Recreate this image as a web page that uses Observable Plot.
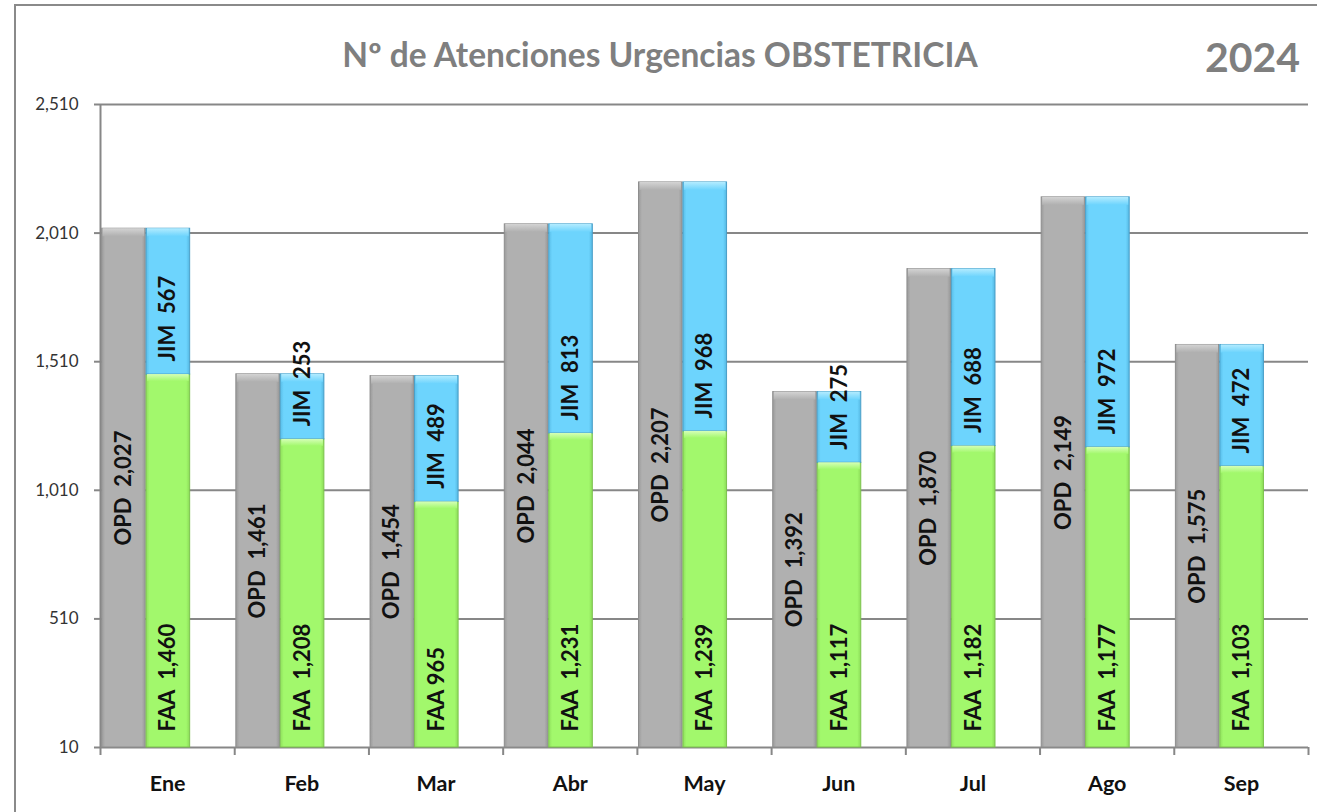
<!DOCTYPE html>
<html><head><meta charset="utf-8">
<script src="https://cdn.jsdelivr.net/npm/d3@7"></script>
<script src="https://cdn.jsdelivr.net/npm/@observablehq/plot@0.6"></script>
<style>
body{margin:0;background:#fff;}
#wrap{position:relative;width:1317px;height:812px;overflow:hidden;font-family:Lato,sans-serif;background:#fff;}
#frame{position:absolute;left:14px;top:4px;width:1400px;height:900px;border:2px solid #8a8a8a;box-sizing:border-box;}
#title{position:absolute;left:0;width:1320px;top:38px;text-align:center;font-size:33.5px;line-height:1;font-weight:700;color:#7f7f7f;white-space:nowrap;}
#year{position:absolute;right:17px;top:36px;font-size:41px;line-height:1;font-weight:700;color:#7f7f7f;}
#chart{position:absolute;left:0;top:0;}
</style></head>
<body><div id="wrap"><div id="frame"></div><div id="title">Nº de Atenciones Urgencias OBSTETRICIA</div><div id="year">2024</div><div id="chart"></div></div>
<script>
const months = ["Ene","Feb","Mar","Abr","May","Jun","Jul","Ago","Sep"];
const opd = [2027,1461,1454,2044,2207,1392,1870,2149,1575];
const faa = [1460,1208,965,1231,1239,1117,1182,1177,1103];
const jim = [567,253,489,813,968,275,688,972,472];
const yTicks = [10,510,1010,1510,2010,2510];
const yBase = 10;

const fmt = d3.format(",");
const rows = months.map((m,i)=>({i, m, opd:opd[i], faa:faa[i], jim:jim[i], top:faa[i]+jim[i]}));

const G0 = 0.012, G1 = 0.337, C0 = 0.343, C1 = 0.668;
const lab = {rotate:-90, fontSize:22, fontWeight:700, fill:"#111", fontFamily:"Lato, sans-serif"};

const chart = Plot.plot({
  width:1317, height:812,
  marginLeft:100, marginRight:9, marginTop:104, marginBottom:65,
  style:{fontFamily:"Lato, sans-serif", background:"transparent", overflow:"visible"},
  x:{domain:[0,9], axis:null},
  y:{domain:[10,2510], axis:null},
  marks:[
    Plot.ruleY(yTicks, {stroke:"#878787", strokeWidth:2}),
    Plot.ruleX([0], {stroke:"#878787", strokeWidth:2}),
    Plot.axisY({ticks:yTicks, tickFormat:fmt, tickSize:6, tickPadding:16, fontSize:17, stroke:"#878787", strokeWidth:2, fill:"#333", label:null}),
    Plot.axisX({ticks:d3.range(0,10), tickFormat:()=>"", tickSize:8, stroke:"#878787", strokeWidth:2, label:null}),
    Plot.axisX({ticks:months.map((m,i)=>i+0.5), tickFormat:v=>months[Math.floor(v)], tickSize:0, tickPadding:28, fontSize:21.5, fontWeight:700, fill:"#111", label:null}),
    // OPD gray bars
    Plot.rectY(rows, {x1:d=>d.i+G0, x2:d=>d.i+G1, y1:yBase, y2:"opd", fill:"url(#gGray)", stroke:"#8e8e8e", strokeWidth:1}),
    // FAA green
    Plot.rectY(rows, {x1:d=>d.i+C0, x2:d=>d.i+C1, y1:yBase, y2:"faa", fill:"url(#gGreen)", stroke:"#7dc24f", strokeWidth:1}),
    // JIM blue
    Plot.rectY(rows, {x1:d=>d.i+C0, x2:d=>d.i+C1, y1:"faa", y2:"top", fill:"url(#gBlue)", stroke:"#4a9fc8", strokeWidth:1}),
    // bevel strips
    Plot.rectY(rows, {x1:d=>d.i+G0, x2:d=>d.i+G1, y1:"opd", y2:"opd", insetBottom:-8, insetLeft:1, insetRight:1, fill:"url(#bGray)"}),
    Plot.rectY(rows, {x1:d=>d.i+C0, x2:d=>d.i+C1, y1:"faa", y2:"faa", insetBottom:-7, insetLeft:1, insetRight:1, fill:"url(#bGreen)"}),
    Plot.rectY(rows, {x1:d=>d.i+C0, x2:d=>d.i+C1, y1:"top", y2:"top", insetBottom:-8, insetLeft:1, insetRight:1, fill:"url(#bBlue)"}),
    // labels
    Plot.text(rows, {...lab, x:d=>d.i+(G0+G1)/2, y:d=>(yBase+d.opd)/2, text:d=>"OPD\u00a0\u00a0"+fmt(d.opd)}),
    Plot.text(rows, {...lab, x:d=>d.i+(C0+C1)/2, y:yBase, dy:-16, textAnchor:"start", text:d=>"FAA\u00a0"+(d.faa>=1000?"\u00a0":"")+fmt(d.faa)}),
    Plot.text(rows, {...lab, x:d=>d.i+(C0+C1)/2, y:"faa", dy:-13, textAnchor:"start", text:d=>"JIM\u00a0\u00a0"+fmt(d.jim)})
  ]
});

const defs = `<defs>
<linearGradient id="gGray" x1="0" x2="1" y1="0" y2="0"><stop offset="0" stop-color="#9a9a9a"/><stop offset="0.08" stop-color="#b0b0b0"/><stop offset="0.92" stop-color="#b0b0b0"/><stop offset="1" stop-color="#989898"/></linearGradient>
<linearGradient id="gGreen" x1="0" x2="1" y1="0" y2="0"><stop offset="0" stop-color="#8fe05c"/><stop offset="0.08" stop-color="#a2f86c"/><stop offset="0.92" stop-color="#a2f86c"/><stop offset="1" stop-color="#8cdc58"/></linearGradient>
<linearGradient id="gBlue" x1="0" x2="1" y1="0" y2="0"><stop offset="0" stop-color="#58bde8"/><stop offset="0.08" stop-color="#6dd4fd"/><stop offset="0.92" stop-color="#6dd4fd"/><stop offset="1" stop-color="#55b8e2"/></linearGradient>
<linearGradient id="bGray" x1="0" x2="0" y1="0" y2="1"><stop offset="0" stop-color="#d4d4d4"/><stop offset="1" stop-color="#b0b0b0"/></linearGradient>
<linearGradient id="bGreen" x1="0" x2="0" y1="0" y2="1"><stop offset="0" stop-color="#d6ffb8"/><stop offset="1" stop-color="#a2f86c"/></linearGradient>
<linearGradient id="bBlue" x1="0" x2="0" y1="0" y2="1"><stop offset="0" stop-color="#b4ecff"/><stop offset="1" stop-color="#6dd4fd"/></linearGradient>
</defs>`;
chart.insertAdjacentHTML("afterbegin", defs);
document.getElementById("chart").appendChild(chart);
</script>
</body></html>
